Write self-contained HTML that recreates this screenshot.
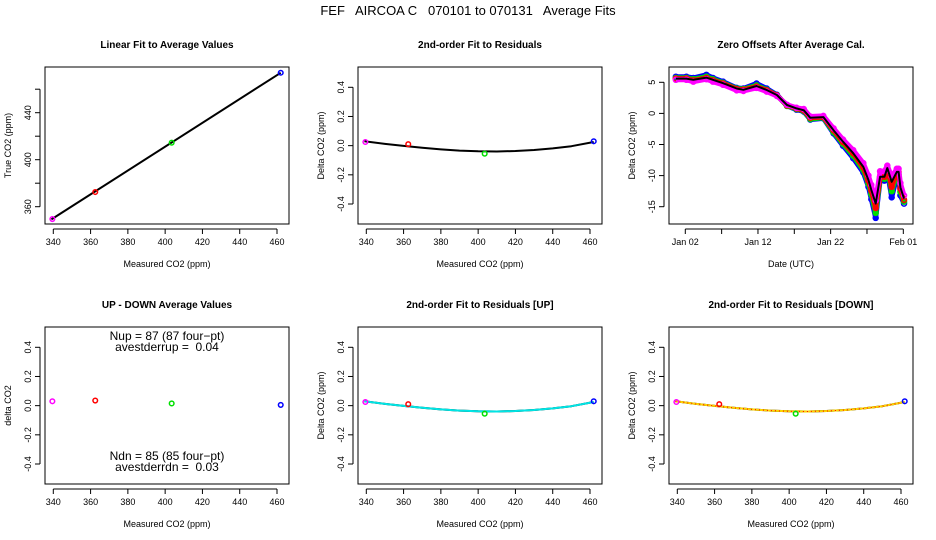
<!DOCTYPE html>
<html><head><meta charset="utf-8">
<style>
html,body{margin:0;padding:0;background:#fff;}
svg{display:block;font-family:"Liberation Sans",Arial,sans-serif;}
</style></head>
<body>
<svg id="c" width="936" height="540" viewBox="0 0 936 540">
<text x="468" y="15" font-size="13" text-anchor="middle" style="white-space:pre" xml:space="preserve">FEF   AIRCOA C   070101 to 070131   Average Fits</text>
</svg>
<script>
// ---- data ----
const ptCO2 = [339.5, 362.5, 403.5, 462];
const ptColors = ["#ff00ff", "#ff0000", "#00e000", "#0000ff"];
const trueCO2 = [349.5, 372.5, 414.5, 474];
const resid = [0.025, 0.01, -0.055, 0.03];
const residUp = [0.025, 0.01, -0.055, 0.03];
const residDn = [0.025, 0.01, -0.055, 0.03];
const upDown = [0.03, 0.035, 0.015, 0.005];
const fitX = [339, 350, 360, 370, 380, 390, 400, 410, 420, 430, 440, 450, 462];
const fitY = [0.03, 0.012, -0.002, -0.015, -0.026, -0.034, -0.039, -0.04, -0.037, -0.03, -0.019, -0.004, 0.025];
const linX = [339, 462];
const linY = [349.2, 474];
const xTicks = [340, 360, 380, 400, 420, 440, 460];
const yTicksTop = [360, 380, 400, 420, 440, 460];
const yLabTop = ["360", "", "400", "", "440", ""];
const resTicks = [-0.4, -0.2, 0.0, 0.2, 0.4];
const resLabels = ["-0.4", "-0.2", "0.0", "0.2", "0.4"];
// time series (day of January)
const tDays = [0.7,2.15,3.1,4.9,5.8,7.2,9.07,10,11.8,13.2,14.6,16,17.3,18.3,19.2,21,22.4,23.7,25.1,26.5,27.2,27.6,28.2,28.8,29.4,29.8,30.4,31.1,31.35,31.6,32.1];
const lineVal = [5.6,5.6,5.4,5.75,5.4,4.85,4.0,3.8,4.4,3.76,2.96,1.35,0.8,0.5,-0.7,-0.6,-2.7,-4.55,-6.4,-8.6,-10.7,-12.3,-14.5,-10.2,-10.2,-8.8,-11,-9.4,-9.4,-11.9,-13.7];
const blueVal = [5.9,5.9,5.7,6.2,5.7,5.1,4.1,4.0,4.8,4.0,3.0,1.2,0.6,0.3,-1.0,-0.8,-3.2,-5.2,-7.2,-9.5,-11.8,-13.8,-16.8,-10.8,-10.8,-9.4,-13.5,-10.2,-10.2,-13.2,-14.5];
const greenVal = [5.7,5.7,5.5,5.9,5.5,4.9,4.0,3.9,4.5,3.8,2.9,1.2,0.7,0.4,-0.9,-0.7,-3.0,-4.9,-6.8,-9.1,-11.3,-13.0,-16.0,-10.5,-10.5,-9.1,-12.5,-9.8,-9.8,-12.6,-14.2];
const redVal = [5.6,5.6,5.3,5.7,5.3,4.8,3.9,3.8,4.3,3.7,2.9,1.3,0.8,0.5,-0.7,-0.6,-2.7,-4.6,-6.4,-8.7,-10.8,-12.4,-15.2,-10.2,-10.2,-8.8,-11.8,-9.4,-9.4,-12.1,-13.9];
const magVal = [5.4,5.4,5.1,5.5,5.1,4.6,3.7,3.6,4.1,3.5,2.8,1.4,0.9,0.7,-0.5,-0.4,-2.4,-4.2,-5.9,-8.0,-10.0,-11.5,-14.0,-9.3,-9.3,-8.4,-10.2,-8.9,-8.9,-11.2,-13.2];
const dateTicks = [2, 7, 12, 17, 22, 27, 32];
const dateLabels = ["Jan 02", "", "Jan 12", "", "Jan 22", "", "Feb 01"];
const tsTicks = [-15, -10, -5, 0, 5];

// ---- drawing ----
const svg = document.getElementById('c');
const NS = 'http://www.w3.org/2000/svg';
function mk(tag, attrs, parent) {
  const e = document.createElementNS(NS, tag);
  for (const k in attrs) e.setAttribute(k, attrs[k]);
  (parent || svg).appendChild(e);
  return e;
}
function panel(name, L, T, xmin, xmax, ymin, ymax, title, xlab, ylab) {
  const g = mk('g', {});
  
  
  const W = 244, H = 157;
  const sx = v => L + (v - xmin) / (xmax - xmin) * W;
  const sy = v => T + H - (v - ymin) / (ymax - ymin) * H;
  const box = mk('rect', {x: L, y: T, width: W, height: H, fill: 'none', stroke: '#000', 'stroke-width': 1}, g);
  
  
  const t = mk('text', {x: L + W / 2, y: T - 19, 'font-size': 10, 'font-weight': 'bold', 'text-anchor': 'middle'}, g);
  t.textContent = title;
  
  
  const xl = mk('text', {x: L + W / 2, y: T + H + 43, 'font-size': 9, 'text-anchor': 'middle'}, g);
  xl.textContent = xlab;
  
  
  const yl = mk('text', {x: 0, y: 0, 'font-size': 9, 'text-anchor': 'middle', transform: `translate(${L - 34},${T + H / 2}) rotate(-90)`}, g);
  yl.textContent = ylab;
  
  
  return {g, sx, sy, L, T, W, H};
}
function xAxis(p, ticks, labels) {
  const a = mk('g', {}, p.g);
  
  
  mk('line', {x1: p.sx(ticks[0]), x2: p.sx(ticks[ticks.length - 1]), y1: p.T + p.H + 5, y2: p.T + p.H + 5, stroke: '#000'}, a);
  ticks.forEach((v, i) => {
    mk('line', {x1: p.sx(v), x2: p.sx(v), y1: p.T + p.H + 5, y2: p.T + p.H + 10, stroke: '#000'}, a);
    if (labels[i]) {
      const tx = mk('text', {x: p.sx(v), y: p.T + p.H + 21, 'font-size': 9, 'text-anchor': 'middle'}, a);
      tx.textContent = labels[i];
    }
  });
}
function yAxis(p, ticks, labels) {
  const a = mk('g', {}, p.g);
  
  
  mk('line', {x1: p.L - 5, x2: p.L - 5, y1: p.sy(ticks[0]), y2: p.sy(ticks[ticks.length - 1]), stroke: '#000'}, a);
  ticks.forEach((v, i) => {
    mk('line', {x1: p.L - 10, x2: p.L - 5, y1: p.sy(v), y2: p.sy(v), stroke: '#000'}, a);
    if (labels[i]) {
      const tx = mk('text', {x: 0, y: 0, 'font-size': 9, 'text-anchor': 'middle', transform: `translate(${p.L - 14},${p.sy(v)}) rotate(-90)`}, a);
      tx.textContent = labels[i];
    }
  });
}
function pts(p, xs, ys) {
  xs.forEach((x, i) => {
    const c = mk('circle', {cx: p.sx(x), cy: p.sy(ys[i]), r: 2.3, fill: 'none', stroke: ptColors[i], 'stroke-width': 1.5}, p.g);
    
    
  });
}
function line(p, xs, ys, color, w, dash) {
  const d = xs.map((x, i) => (i ? 'L' : 'M') + p.sx(x).toFixed(1) + ',' + p.sy(ys[i]).toFixed(1)).join('');
  const e = mk('path', {d, fill: 'none', stroke: color, 'stroke-width': w, 'stroke-linejoin': 'round'}, p.g);
  if (dash) e.setAttribute('stroke-dasharray', dash);
  
  
  return e;
}
const xA = 340 - 8.3 * 120 / 223.7, xB = 340 + (244 - 8.3) * 120 / 223.7;
const rA = -0.4 - (224 - 204) * 0.8 / 116.7, rB = 0.4 + (87.3 - 67) * 0.8 / 116.7;

const p1 = panel('panel-linear-fit', 45, 67, xA, xB, 360 - (224 - 206.7) / 1.175, 440 + (112.7 - 67) / 1.175, 'Linear Fit to Average Values', 'Measured CO2 (ppm)', 'True CO2 (ppm)');
xAxis(p1, xTicks, xTicks.map(String)); yAxis(p1, yTicksTop, yLabTop);
line(p1, linX, linY, '#000', 2); pts(p1, ptCO2, trueCO2);

const p2 = panel('panel-residual-fit', 358, 67, xA, xB, rA, rB, '2nd-order Fit to Residuals', 'Measured CO2 (ppm)', 'Delta CO2 (ppm)');
xAxis(p2, xTicks, xTicks.map(String)); yAxis(p2, resTicks, resLabels);
line(p2, fitX, fitY, '#000', 2); pts(p2, ptCO2, resid);

const tA = 2 - (685.3 - 669) / 7.267, tB = tA + 244 / 7.267;
const p3 = panel('panel-zero-offsets', 669, 67, tA, tB, 5 - (224 - 82.3) / 6.22, 5 + (82.3 - 67) / 6.22, 'Zero Offsets After Average Cal.', 'Date (UTC)', 'Delta CO2 (ppm)');
xAxis(p3, dateTicks, dateLabels); yAxis(p3, tsTicks, tsTicks.map(String));
[[blueVal, '#0000ff'], [greenVal, '#00dd00'], [redVal, '#ff0000'], [magVal, '#ff00ff']].forEach(([vals, col]) => {
  const band = line(p3, tDays, vals, col, 5);
  
  tDays.forEach((t, i) => {
    const c = mk('circle', {cx: p3.sx(t), cy: p3.sy(vals[i]), r: 2.5, fill: 'none', stroke: col, 'stroke-width': 1.5}, p3.g);
    
    
  });
});
line(p3, tDays, lineVal, '#000', 2);

const p4 = panel('panel-up-down', 45, 327, xA, xB, rA, rB, 'UP - DOWN Average Values', 'Measured CO2 (ppm)', 'delta CO2');
xAxis(p4, xTicks, xTicks.map(String)); yAxis(p4, resTicks, resLabels);
pts(p4, ptCO2, upDown);
[['Nup = 87 (87 four\u2212pt)', 340], ['avestderrup =  0.04', 351], ['Ndn = 85 (85 four\u2212pt)', 460], ['avestderrdn =  0.03', 471]].forEach(([s, y]) => {
  const tx = mk('text', {x: 167, y: y, 'font-size': 12, 'text-anchor': 'middle', style: 'white-space:pre'}, p4.g);
  tx.textContent = s;
  
  
});

const p5 = panel('panel-residual-up', 358, 327, xA, xB, rA, rB, '2nd-order Fit to Residuals [UP]', 'Measured CO2 (ppm)', 'Delta CO2 (ppm)');
xAxis(p5, xTicks, xTicks.map(String)); yAxis(p5, resTicks, resLabels);
line(p5, fitX, fitY, '#000', 2); line(p5, fitX, fitY, '#00e5e5', 2); pts(p5, ptCO2, residUp);

const p6 = panel('panel-residual-down', 669, 327, xA, xB, rA, rB, '2nd-order Fit to Residuals [DOWN]', 'Measured CO2 (ppm)', 'Delta CO2 (ppm)');
xAxis(p6, xTicks, xTicks.map(String)); yAxis(p6, resTicks, resLabels);
line(p6, fitX, fitY, '#000', 2); line(p6, fitX, fitY, '#ffd700', 2); line(p6, fitX, fitY, '#ff0000', 1, '1,3'); pts(p6, ptCO2, residDn);
</script>
</body></html>
